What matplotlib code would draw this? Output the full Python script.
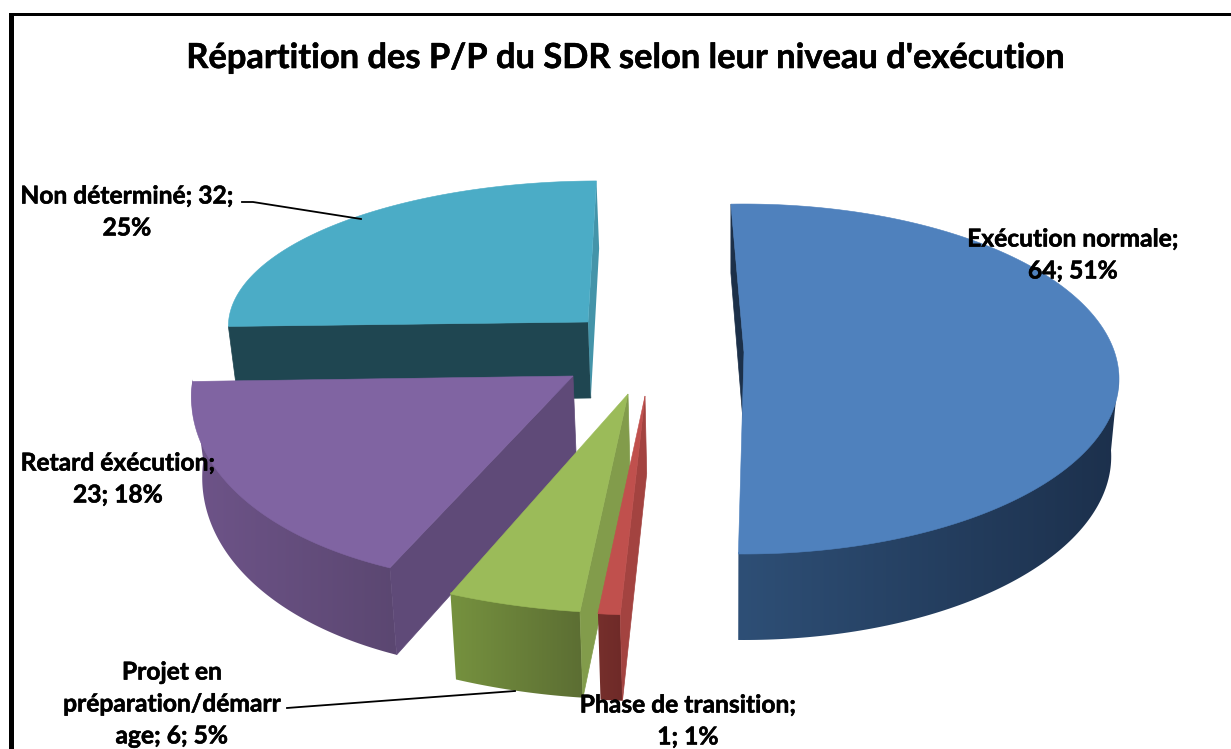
import numpy as np
import matplotlib
matplotlib.use('Agg')
import matplotlib.pyplot as plt
import matplotlib.patheffects as pe
from matplotlib.patches import Polygon, Rectangle
from matplotlib.colors import to_rgb

# data, in clockwise order starting near the top
categories = ['Exécution normale', 'Phase de transition', 'Projet en préparation/démarrage',
              'Retard éxécution', 'Non déterminé']
values = [64, 1, 6, 23, 32]
percents = [51, 1, 5, 18, 25]

title = "Répartition des P/P du SDR selon leur niveau d'exécution"

colors = ['#4f81bd', '#c0504d', '#9bbb59', '#8064a2', '#4bacc6']
start_wall = ['#1c3049', '#a34340', '#829c4b', '#5f4a78', '#1f4651']
rim_light = ['#2e4f76', '#762f2c', '#76923f', '#6e5489', '#2f7a8c']
rim_dark = ['#1c304c', '#6e2a28', '#5c6e33', '#5b4771', '#2a6b7c']
cyan_end_wall = '#4494a9'

# each slice has its own place on the picture: cx, cy, rx, ry, skew x, skew y, depth
geom = [
    (744, 379, 375, 175, 0, 0, 77.5),
    (645, 396, 450, 219, 18, 13, 77.5),
    (628, 394, 449, 219, 19, 13, 77.5),
    (573, 376, 378, 208, 52, 7, 79),
    (588, 322, 359, 141, 21, 4, 76),
]
apex_shift = [-27, 0, 0, 0, 0]
draw_order = [4, 0, 3, 2, 1]
start_angle = -2.0

plt.rcParams['font.family'] = ['Lato', 'DejaVu Sans']

fig = plt.figure(figsize=(12.31, 7.49), dpi=100)
ax = fig.add_axes([0, 0, 1, 1])


def rim(g, th):
    cx, cy, rx, ry, sx, sy, d = g
    x = cx + rx * np.sin(th) + sx * np.cos(th)
    y = cy - ry * np.cos(th) + sy * np.sin(th)
    return x, y


def lower(x, y, d):
    # the bottom of the pie leans a little toward the middle and is thicker at the front
    return x + (730 - x) * 0.02, y + d


total = sum(values)
angles = np.radians(start_angle + np.cumsum([0] + values) / total * 360)

for i in draw_order:
    g = geom[i]
    cx, cy, rx, ry, sx, sy, d = g
    ay = cy + apex_shift[i]
    th = np.linspace(angles[i], angles[i + 1], 200)
    x, y = rim(g, th)
    xb, yb = lower(x, y, d - 8.5 * np.cos(th))
    axb, ayb = lower(cx, ay, d)

    # outer side with a left to right shading, its upper edge runs under the top face
    vis = np.cos(th) < 0.05
    if vis.sum() > 1 and i != 4:
        pts = np.vstack([np.column_stack([x[vis], y[vis] - 2]),
                         np.column_stack([xb[vis], yb[vis]])[::-1]])
        side = Polygon(pts, closed=True, fc='none', ec='none')
        ax.add_patch(side)
        c0 = np.array(to_rgb(rim_light[i]))
        c1 = np.array(to_rgb(rim_dark[i]))
        grad = np.linspace(0, 1, 256)[None, :, None]
        img = c0 * (1 - grad) + c1 * grad
        im = ax.imshow(img, extent=(pts[:, 0].min(), pts[:, 0].max(), pts[:, 1].max(), pts[:, 1].min()),
                       aspect='auto', zorder=2, interpolation='bilinear')
        im.set_clip_path(side)

    # the flat wall that can be seen, from the centre to the rim
    wall = [(cx, ay), (x[0], y[0]), (xb[0], yb[0]), (axb, ayb)]
    ax.add_patch(Polygon(wall, closed=True, fc=start_wall[i], ec=start_wall[i], lw=0.5, zorder=2))
    if i == 4:
        wall = [(cx, ay), (x[-1], y[-1]), (xb[-1], yb[-1]), (axb, ayb)]
        ax.add_patch(Polygon(wall, closed=True, fc=cyan_end_wall, ec='none', zorder=2))

    # top face
    top = np.vstack([[cx, ay], np.column_stack([x, y])])
    ax.add_patch(Polygon(top, closed=True, fc=colors[i], ec=colors[i], lw=0.4, zorder=2))

ax.set_xlim(0, 1231)
ax.set_ylim(749, 0)
ax.axis('off')

# frame, open on the right and at the bottom
ax.add_patch(Rectangle((9, 13), 1222, 3, fc='black', ec='none', zorder=5))
ax.add_patch(Rectangle((9, 13), 5, 736, fc='black', ec='none', zorder=5))

bold = [pe.withStroke(linewidth=0.4, foreground='black')]
ax.text(626, 58, title, ha='center', va='center', fontsize=24.8, fontweight='bold', color='black',
        path_effects=bold)

# leader lines
ax.plot([242, 253, 361], [202, 202, 219], color='black', lw=1.3, zorder=3)
ax.plot([287, 300, 515], [708, 707, 691], color='black', lw=1.3, zorder=3)

lab = dict(ha='center', va='center', fontsize=17.7, fontweight='bold', color='black', zorder=6,
           linespacing=1.47, path_effects=bold)
ax.text(127, 212, f'{categories[4]}; {values[4]};\n{percents[4]}%', **lab)
ax.text(1073, 255, f'{categories[0]};\n{values[0]}; {percents[0]}%', **lab)
ax.text(118, 479, f'{categories[3]};\n{values[3]}; {percents[3]}%', **lab)
ax.text(172, 704, f'Projet en\npréparation/démarr\nage; {values[2]}; {percents[2]}%', **lab)
ax.text(688, 721, f'{categories[1]};\n{values[1]}; {percents[1]}%', **lab)

fig.savefig('out.png', dpi=100)
